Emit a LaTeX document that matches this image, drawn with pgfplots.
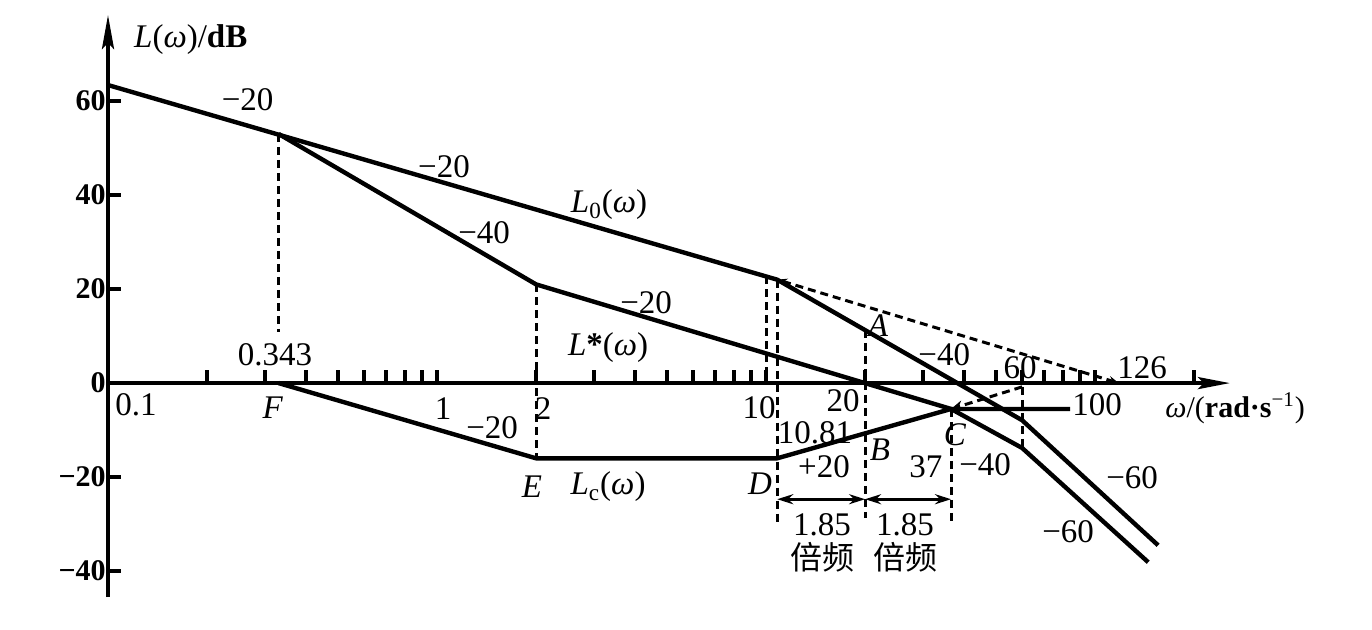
\documentclass[border=0pt]{standalone}
\usepackage{pgfplots}
\pgfplotsset{compat=1.18}
\usepackage{fontspec}
\setmainfont{Liberation Serif}
\newfontfamily\cjk{Noto Sans CJK SC}
\usetikzlibrary{arrows.meta}
\begin{document}
\begin{tikzpicture}[font=\fontsize{16.5}{19}\selectfont]
\begin{axis}[
  xmode=log, xmin=0.1, xmax=257, ymin=-45.5, ymax=78.3,
  width=561pt, height=291pt, scale only axis,
  axis x line*=middle, axis y line*=left,
  x axis line style={line width=2pt, -{Stealth[length=16pt,width=6pt,inset=3pt]}},
  y axis line style={line width=2pt, -{Stealth[length=17pt,width=6pt,inset=3pt]}},
  xtick={0.2,0.3,0.4,0.5,0.6,0.7,0.8,0.9,1,2,3,4,5,6,7,8,9,10,20,30,40,50,60,70,80,90,100,200},
  xticklabels={},
  ytick={-40,-20,0,20,40,60},
  yticklabels={−40,−20,0,20,40,60},
  tick align=inside,
  major tick length=6.5pt, minor tick length=0pt,
  tick style={line width=2pt, black},
  hide obscured y ticks=false,
  yticklabel style={font=\fontsize{15}{18}\selectfont\bfseries, inner sep=1pt},
  clip=false, no marks,
  sol/.style={black, line width=2.2pt, line join=round},
  dsh/.style={black, line width=1.5pt, dash pattern=on 4pt off 2.5pt},
]
% L0
\addplot[sol] coordinates {(0.1,63.4) (10.81,22) (60,-7.9) (155.4,-34.5)};
% L*
\addplot[sol] coordinates {(0.33,53.0) (2,21) (36.5,-5.5) (60,-13.8) (145,-38.1)};
% Lc
\addplot[sol] coordinates {(0.33,0) (2,-16) (10.81,-16) (36.5,-5.5) (84,-5.5)};
% dashed
\addplot[dsh, {Stealth[length=5pt,width=4pt]}-{Stealth[length=5pt,width=4pt]}] coordinates {(10.81,22) (118,0)};
\addplot[dsh] coordinates {(0.33,53) (0.33,10.9)};
\addplot[dsh] coordinates {(2,21) (2,-16)};
\addplot[dsh] coordinates {(10,22.7) (10,0)};
\addplot[dsh] coordinates {(10.81,22) (10.81,-29.8)};
\addplot[dsh] coordinates {(20,11.3) (20,-28.7)};
\addplot[dsh] coordinates {(36.5,-5.5) (36.5,-29.8)};
\addplot[dsh] coordinates {(60,-0.8) (60,-13.8)};
\addplot[dsh, -{Stealth[length=6pt,width=5pt]}] coordinates {(60,-0.8) (36.5,-5.5)};
% frequency-ratio arrows
\addplot[black, line width=1.5pt, {Stealth[length=8pt,width=5pt]}-{Stealth[length=8pt,width=5pt]}] coordinates {(10.81,-24.7) (20,-24.7)};
\addplot[black, line width=1.5pt, {Stealth[length=8pt,width=5pt]}-{Stealth[length=8pt,width=5pt]}] coordinates {(20,-24.7) (36.5,-24.7)};
% labels
\node[anchor=west] at (axis cs:0.1143,73) {\textit{L}(\textit{ω})/\textbf{dB}};
\node[font=\fontsize{15}{18}\selectfont] at (axis cs:266.5,-5.32) {\textit{ω}/(\textbf{rad·s}\textsuperscript{−1})};
\node at (axis cs:0.2657,60.2) {−20};
\node at (axis cs:1.05,45.96) {−20};
\node at (axis cs:3.333,37.87) {\textit{L}\textsubscript{0}(\textit{ω})};
\node at (axis cs:1.39,32.1) {−40};
\node at (axis cs:4.318,17.2) {−20};
\node at (axis cs:3.31,7.66) {\textit{L}\textbf{*}(\textit{ω})};
\node at (axis cs:21.9,12.3) {\textit{A}};
\node at (axis cs:0.3218,5.96) {0.343};
\node at (axis cs:0.1216,-4.68) {0.1};
\node at (axis cs:0.3172,-5.32) {\textit{F}};
\node at (axis cs:1.043,-5.32) {1};
\node at (axis cs:1.47,-9.57) {−20};
\node at (axis cs:2.1,-5.32) {2};
\node at (axis cs:1.944,-22.1) {\textit{E}};
\node at (axis cs:3.31,-22.1) {\textit{L}\textsubscript{c}(\textit{ω})};
\node at (axis cs:9.59,-21.3) {\textit{D}};
\node at (axis cs:9.52,-5.32) {10};
\node[inner sep=0pt] at (axis cs:17.14,-3.7) {20};
\node[inner sep=0pt] at (axis cs:14.09,-10.5) {10.81};
\node at (axis cs:15.0,-17.8) {+20};
\node at (axis cs:22.2,-14.26) {\textit{B}};
\node at (axis cs:30.6,-17.87) {37};
\node at (axis cs:37.5,-11.06) {\textit{C}};
\node at (axis cs:46.3,-17.45) {−40};
\node at (axis cs:14.8,-30.2) {1.85};
\node at (axis cs:26.45,-30.2) {1.85};
\node[font=\fontsize{16}{19}\selectfont] at (axis cs:14.8,-37.0) {\cjk 倍频};
\node[font=\fontsize{16}{19}\selectfont] at (axis cs:26.45,-37.0) {\cjk 倍频};
\node at (axis cs:82.8,-31.7) {−60};
\node at (axis cs:129.6,-20.2) {−60};
\node at (axis cs:101.4,-4.68) {100};
\node at (axis cs:59.2,3.19) {60};
\node at (axis cs:139,3.19) {126};
\node at (axis cs:34.8,5.96) {−40};
\coordinate (SW) at (rel axis cs:0,0);
\coordinate (NE) at (rel axis cs:1,1);
\end{axis}
\pgfresetboundingbox
\path ([shift={(-54pt,-16pt)}]SW) rectangle ([shift={(71pt,7.5pt)}]NE);
\end{tikzpicture}
\end{document}
